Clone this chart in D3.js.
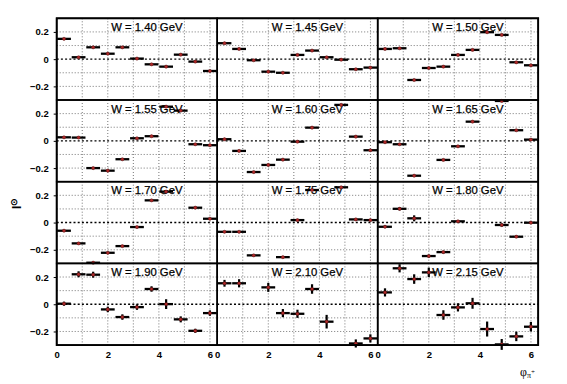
<!DOCTYPE html>
<html>
<head>
<meta charset="utf-8">
<script src="https://cdn.jsdelivr.net/npm/d3@7"></script>
<style>
  body { margin: 0; background: #fff; }
  svg { display: block; font-family: "Liberation Sans", Arial, sans-serif; }
</style>
</head>
<body>
<div id="chart"></div>
<script>
// phi bin centres (rad) and half width of a bin
const phiCenters = [0.286, 0.857, 1.428, 2.0, 2.571, 3.142, 3.713, 4.284, 4.855, 5.426, 5.997];
const binHalf = 0.27;

const wLabels = ["W = 1.40 GeV", "W = 1.45 GeV", "W = 1.50 GeV",
                 "W = 1.55 GeV", "W = 1.60 GeV", "W = 1.65 GeV",
                 "W = 1.70 GeV", "W = 1.75 GeV", "W = 1.80 GeV",
                 "W = 1.90 GeV", "W = 2.10 GeV", "W = 2.15 GeV"];

// beam asymmetry per bin (null = no point)
const a140 = [0.149, 0.014, 0.087, 0.040, 0.087, 0.004, -0.038, -0.055, 0.033, -0.018, -0.087];
const a145 = [0.117, 0.075, -0.008, -0.092, -0.100, 0.031, 0.063, 0.014, -0.004, -0.074, -0.062];
const a150 = [0.075, 0.080, -0.153, -0.065, -0.055, 0.031, 0.068, 0.198, 0.178, -0.023, -0.045];
const a155 = [0.026, 0.024, -0.200, -0.219, -0.135, 0.019, 0.034, 0.251, 0.222, -0.025, -0.032];
const a160 = [0.012, -0.074, -0.229, -0.177, -0.138, -0.006, 0.097, null, 0.264, 0.031, -0.069];
const a165 = [-0.010, -0.025, -0.256, null, -0.140, -0.040, 0.141, null, 0.293, 0.078, 0.009];
const a170 = [-0.060, -0.153, -0.295, -0.222, -0.173, -0.033, 0.163, 0.227, null, 0.109, 0.028];
const a175 = [-0.068, -0.068, -0.241, null, -0.254, 0.018, 0.239, null, 0.259, 0.023, 0.018];
const a180 = [-0.031, 0.101, 0.031, -0.246, -0.217, 0.009, null, null, -0.018, -0.104, -0.001];
const a190 = [0.004, 0.220, 0.217, -0.038, -0.094, -0.021, 0.112, 0.001, -0.111, -0.195, -0.065];
const a210 = [0.154, 0.154, null, 0.124, -0.065, -0.070, 0.112, -0.128, null, -0.288, -0.251];
const a215 = [0.087, 0.264, 0.185, 0.234, -0.079, -0.023, 0.007, -0.182, -0.295, -0.236, -0.165];

// statistical errors
const eSmall = [0.006, 0.006, 0.006, 0.006, 0.006, 0.006, 0.006, 0.006, 0.006, 0.006, 0.006];
const e180 = [0.010, 0.012, 0.022, 0.010, 0.010, 0.010, 0, 0, 0.012, 0.008, 0.008];
const e190 = [0.015, 0.022, 0.022, 0.020, 0.020, 0.020, 0.020, 0.036, 0.022, 0.015, 0.020];
const e210 = [0.025, 0.030, 0, 0.033, 0.030, 0.030, 0.035, 0.050, 0, 0.030, 0.030];
const e215 = [0.030, 0.030, 0.035, 0.035, 0.035, 0.030, 0.040, 0.055, 0.040, 0.035, 0.035];

const panelValues = [a140, a145, a150, a155, a160, a165, a170, a175, a180, a190, a210, a215];
const panelErrors = [eSmall, eSmall, eSmall, eSmall, eSmall, eSmall, eSmall, eSmall, e180, e190, e210, e215];

const yTicks = [-0.2, 0, 0.2];
const yGrid = [-0.2, -0.1, 0.1, 0.2];
const xTicks = [0, 2, 4, 6];
const xGrid = [1, 2, 3, 4, 5, 6];

const width = 567, height = 384;
const padLeft = 56.7, padTop = 18.3, pw = 160.5, ph = 81.7;
const nCols = 3;

const svg = d3.select("#chart").append("svg")
  .attr("width", width).attr("height", height);

const x = d3.scaleLinear().domain([0, 2 * Math.PI]).range([0, pw]);
const y = d3.scaleLinear().domain([-0.3, 0.3]).range([ph, 0]);

const panels = svg.selectAll("g.panel")
  .data(wLabels.map((lab, i) => ({lab, i, vals: panelValues[i], errs: panelErrors[i]})))
  .join("g")
  .attr("class", "panel")
  .attr("transform", d => `translate(${padLeft + (d.i % nCols) * pw},${padTop + Math.floor(d.i / nCols) * ph})`);

// grid
panels.each(function() {
  const g = d3.select(this);
  g.selectAll("line.vg").data(xGrid).join("line")
    .attr("x1", d => x(d)).attr("x2", d => x(d))
    .attr("y1", 0).attr("y2", ph)
    .attr("stroke", "#666").attr("stroke-width", 0.9)
    .attr("stroke-dasharray", "1,2");
  g.selectAll("line.hg").data(yGrid).join("line")
    .attr("x1", 0).attr("x2", pw)
    .attr("y1", d => y(d)).attr("y2", d => y(d))
    .attr("stroke", "#666").attr("stroke-width", 0.9)
    .attr("stroke-dasharray", "1,2");
  g.append("line")
    .attr("x1", 0).attr("x2", pw)
    .attr("y1", y(0)).attr("y2", y(0))
    .attr("stroke", "#000").attr("stroke-width", 1.4)
    .attr("stroke-dasharray", "2,2.2");
});

// labels
panels.append("text")
  .attr("x", 54.5).attr("y", 12.6)
  .attr("font-size", 11.3)
  .attr("fill", "#000")
  .attr("stroke", "#000").attr("stroke-width", 0.25)
  .text(d => d.lab);

// points
panels.each(function(p) {
  const g = d3.select(this);
  const pts = p.vals.map((v, k) => ({phi: phiCenters[k], v, e: p.errs[k]})).filter(d => d.v !== null);
  const pt = g.selectAll("g.pt").data(pts).join("g").attr("class", "pt");
  pt.append("line")
    .attr("x1", d => x(d.phi - binHalf)).attr("x2", d => x(d.phi + binHalf))
    .attr("y1", d => y(d.v)).attr("y2", d => y(d.v))
    .attr("stroke", "#000").attr("stroke-width", 2.3);
  pt.filter(d => d.e > 0).append("line")
    .attr("x1", d => x(d.phi)).attr("x2", d => x(d.phi))
    .attr("y1", d => y(d.v - d.e)).attr("y2", d => y(d.v + d.e))
    .attr("stroke", "#000").attr("stroke-width", 2.2);
  pt.append("circle")
    .attr("cx", d => x(d.phi)).attr("cy", d => y(d.v))
    .attr("r", 1.6)
    .attr("fill", "#b02a2a").attr("stroke", "#5a1010").attr("stroke-width", 0.5);
});

// frames
panels.append("rect")
  .attr("width", pw).attr("height", ph)
  .attr("fill", "none").attr("stroke", "#000").attr("stroke-width", 1.6);

svg.append("rect")
  .attr("x", padLeft).attr("y", padTop)
  .attr("width", pw * 3).attr("height", ph * 4)
  .attr("fill", "none").attr("stroke", "#000").attr("stroke-width", 1.8);

// y axes on left column
const fmtY = d => d === 0 ? "0" : d3.format(".1f")(d);
for (let r = 0; r < 4; r++) {
  const ax = svg.append("g")
    .attr("transform", `translate(${padLeft},${padTop + r * ph})`)
    .call(d3.axisLeft(y).tickValues(yTicks).tickSize(3).tickPadding(5).tickFormat(fmtY));
  ax.select(".domain").remove();
  ax.selectAll("text").attr("font-size", 9.5).attr("font-weight", "bold")
    .attr("font-family", "Liberation Sans, Arial, sans-serif").attr("fill", "#000");
  ax.selectAll("line").attr("stroke", "#000");
}

// x axes on bottom row
for (let c = 0; c < 3; c++) {
  const ax = svg.append("g")
    .attr("transform", `translate(${padLeft + c * pw},${padTop + 4 * ph})`)
    .call(d3.axisBottom(x).tickValues(xTicks).tickSize(0).tickPadding(6).tickFormat(d3.format("d")));
  ax.select(".domain").remove();
  ax.selectAll("text").attr("font-size", 9.5).attr("font-weight", "bold")
    .attr("font-family", "Liberation Sans, Arial, sans-serif").attr("fill", "#000");
}

// axis titles
const yTitle = svg.append("text")
  .attr("transform", "translate(21,209) rotate(-90)")
  .attr("font-size", 12).attr("font-weight", "bold").attr("fill", "#000");
yTitle.append("tspan").text("I");
yTitle.append("tspan").attr("dy", -4).attr("font-size", 9).text("⊙");

const xTitle = svg.append("text")
  .attr("x", 520).attr("y", 376)
  .attr("font-family", "Liberation Serif, serif")
  .attr("font-size", 12).attr("fill", "#000");
xTitle.append("tspan").text("φ");
xTitle.append("tspan").attr("dy", 2).attr("font-size", 8).text("π");
xTitle.append("tspan").attr("dy", -4).attr("font-size", 7).text("+");
</script>
</body>
</html>
